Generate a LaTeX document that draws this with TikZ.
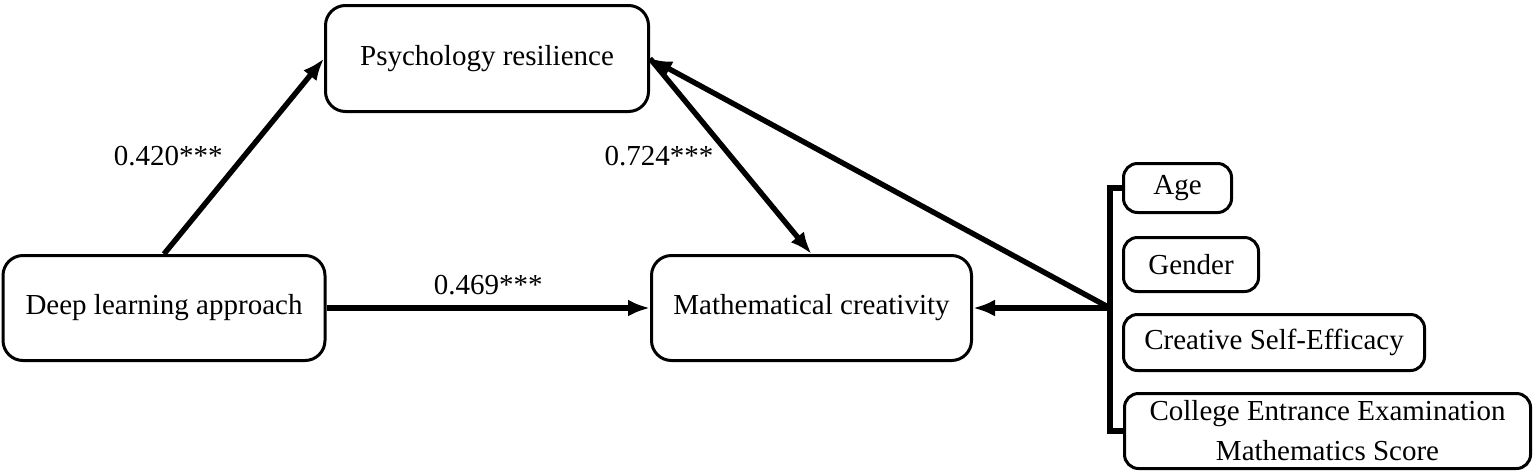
\documentclass[tikz,border=0pt]{standalone}
\usepackage{fontspec}
\setmainfont{Liberation Serif}
\usetikzlibrary{arrows.meta}
\begin{document}
\begin{tikzpicture}[x=0.5pt,y=-0.5pt,
  varbox/.style={draw,line width=1.5pt,rounded corners=10pt,inner sep=2pt,
    align=center,font=\fontsize{14.5}{20}\selectfont},
  ctrlbox/.style={varbox,rounded corners=7pt},
  effect/.style={line width=2.7pt,-{Latex[length=11pt,width=8.5pt]}},
  bracket/.style={line width=2.7pt},
  coef/.style={font=\fontsize{14.5}{17}\selectfont}]
\useasboundingbox (0,0) rectangle (1535,472);
\node[varbox,minimum width=161.5pt,minimum height=53pt] (psy) at (487,58.5) {Psychology resilience};
\node[varbox,minimum width=161pt,minimum height=52.5pt] (dla) at (164,308) {Deep learning approach};
\node[varbox,minimum width=160pt,minimum height=52.5pt] (mc) at (811.5,308) {Mathematical creativity};
\node[ctrlbox,minimum width=54pt,minimum height=24.5pt] (age) at (1177.5,188) {Age};
\node[ctrlbox,minimum width=67.5pt,minimum height=27pt] (gen) at (1191,264.5) {Gender};
\node[ctrlbox,minimum width=150.5pt,minimum height=28pt] (cse) at (1274,342.5) {Creative Self-Efficacy};
\node[ctrlbox,minimum width=203pt,minimum height=37.5pt] (ceems) at (1327.5,431)
  {College Entrance Examination\\Mathematics Score};
\coordinate (j) at (1110,308);
\draw[effect] (dla.north) -- node[coef,left=6pt] {0.420***} (psy.west);
\draw[effect] (dla.east) -- node[coef,above=2pt] {0.469***} (mc.west);
\draw[effect] (psy.east) -- node[coef,left=4pt] {0.724***} (mc.north);
\draw[bracket] (age.west) -- (age.west -| j) -- (ceems.west -| j) -- (ceems.west);
\draw[effect] (j) -- (mc.east);
\draw[effect] (j) -- (psy.east);
\end{tikzpicture}
\end{document}
